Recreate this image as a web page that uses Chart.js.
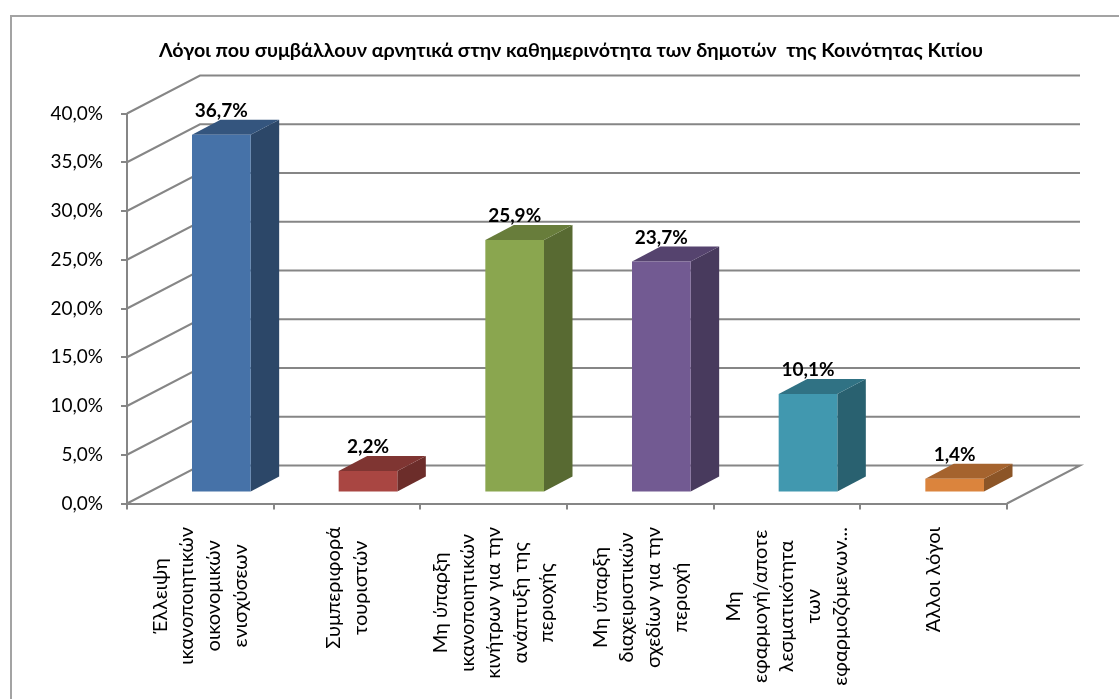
<!DOCTYPE html>
<html lang="el">
<head>
<meta charset="utf-8">
<title>Λόγοι</title>
<script src="https://cdn.jsdelivr.net/npm/chart.js@4"></script>
<style>
html,body{margin:0;padding:0;background:#fff;overflow:hidden}
#wrap{position:relative;width:1119px;height:699px}
#frame{position:absolute;left:10px;top:15px;width:1200px;height:800px;border:2px solid #a3a3a3;box-sizing:border-box}
canvas{position:absolute;left:0;top:0}
</style>
</head>
<body>
<div id="wrap"><div id="frame"></div><canvas id="c" width="1119" height="699"></canvas></div>
<script>
const titleText = 'Λόγοι που συμβάλλουν αρνητικά στην καθημερινότητα των δημοτών  της Κοινότητας Κιτίου';
const categories = [
  ['Έλλειψη','ικανοποιητικών','οικονομικών','ενισχύσεων'],
  ['Συμπεριφορά','τουριστών'],
  ['Μη ύπαρξη','ικανοποιητικών','κινήτρων για την','ανάπτυξη της','περιοχής'],
  ['Μη ύπαρξη','διαχειριστικών','σχεδίων για την','περιοχή'],
  ['Μη','εφαρμογή/αποτε','λεσματικότητα','των','εφαρμοζόμενων...'],
  ['Άλλοι λόγοι']
];
const values = [36.7, 2.2, 25.9, 23.7, 10.1, 1.4];
const frontColors = ['#4672a8','#a94642','#8aa64f','#725a92','#4198af','#db843d'];
const topColors   = ['#34557e','#7f3532','#687d3b','#55436e','#307284','#a5632e'];
const sideColors  = ['#2c4768','#6c2d2a','#586a32','#483a5d','#296170','#8c5527'];

const fontFamily = 'Lato, "Open Sans", sans-serif';
const AXIS = '#868686';
const WALL = {dx: 73, dy: -38};
const BAR_SHIFT = {dx: 21, dy: -11};
const BAR_DEPTH = {dx: 28.5, dy: -15};
const LABEL_TOP = 527;
const fmt = v => v.toFixed(1).replace('.', ',') + '%';

class WrappedCategoryScale extends Chart.CategoryScale {
  _computeLabelItems(area) {
    const items = super._computeLabelItems(area);
    const ctx = this.ctx;
    const ticksFont = Chart.helpers.toFont(this.options.ticks.font);
    ctx.save();
    ctx.font = ticksFont.string;
    items.forEach((item, i) => {
      const lines = [].concat(item.label);
      const w = Math.max(...lines.map(l => ctx.measureText(l).width));
      const px = this.getPixelForTick(i);
      item.options.textAlign = 'center';
      item.options.textBaseline = 'middle';
      item.options.translation = [px, LABEL_TOP + w / 2];
      item.textOffset = -(lines.length - 1) / 2 * ticksFont.lineHeight;
    });
    ctx.restore();
    return items;
  }
}
WrappedCategoryScale.id = 'wrappedCategory';
WrappedCategoryScale.defaults = Chart.CategoryScale.defaults;
Chart.register(WrappedCategoryScale);

function poly(ctx, pts, fill) {
  ctx.beginPath();
  pts.forEach((p, i) => i ? ctx.lineTo(p[0], p[1]) : ctx.moveTo(p[0], p[1]));
  ctx.closePath();
  ctx.fillStyle = fill;
  ctx.fill();
}

const bars3d = {
  id: 'bars3d',
  afterLayout(chart) {
    chart.titleBlock.left = 23;
    chart.titleBlock.right = 1119;
  },
  beforeDatasetsDraw(chart) {
    const {ctx, chartArea: a, scales: {y}} = chart;
    ctx.save();
    ctx.strokeStyle = AXIS;
    ctx.lineWidth = 2;
    y.ticks.forEach(t => {
      const py = y.getPixelForValue(t.value);
      ctx.beginPath();
      ctx.moveTo(a.left, py);
      ctx.lineTo(a.left + WALL.dx, py + WALL.dy);
      ctx.lineTo(a.right + WALL.dx, py + WALL.dy);
      if (t.value === 0) ctx.lineTo(a.right, py);
      ctx.stroke();
    });
    ctx.restore();
  },
  beforeDatasetDraw(chart, args) {
    const {ctx} = chart;
    const meta = args.meta;
    ctx.save();
    ctx.translate(BAR_SHIFT.dx, BAR_SHIFT.dy);
    meta.data.forEach((bar, i) => {
      const {x, y, base, width} = bar.getProps(['x','y','base','width'], true);
      const l = x - width / 2, r = x + width / 2;
      const d = BAR_DEPTH;
      poly(ctx, [[r, y],[r + d.dx, y + d.dy],[r + d.dx, base + d.dy],[r, base]], sideColors[i]);
      poly(ctx, [[l, y],[r, y],[r + d.dx, y + d.dy],[l + d.dx, y + d.dy]], topColors[i]);
    });
  },
  afterDatasetDraw(chart, args) {
    const {ctx} = chart;
    ctx.restore();
    ctx.save();
    ctx.font = 'bold 19px ' + fontFamily;
    ctx.fillStyle = '#000';
    ctx.textAlign = 'center';
    ctx.textBaseline = 'middle';
    args.meta.data.forEach((bar, i) => {
      const {x, y} = bar.getProps(['x','y'], true);
      ctx.fillText(fmt(values[i]), x + BAR_SHIFT.dx, y + BAR_SHIFT.dy - 24);
    });
    ctx.restore();
  }
};

new Chart(document.getElementById('c'), {
  type: 'bar',
  data: {
    labels: categories,
    datasets: [{
      data: values,
      backgroundColor: frontColors,
      barPercentage: 0.4,
      categoryPercentage: 1,
      clip: false
    }]
  },
  plugins: [bars3d],
  options: {
    responsive: false,
    animation: false,
    layout: {padding: {left: 23, right: 112, top: 0, bottom: 0}},
    plugins: {
      legend: {display: false},
      tooltip: {enabled: false},
      title: {
        display: true,
        text: titleText,
        color: '#000',
        font: {family: fontFamily, size: 19.7, weight: 'bold', lineHeight: 1.2},
        padding: {top: 39, bottom: 50.86}
      }
    },
    scales: {
      x: {
        type: 'wrappedCategory',
        offset: true,
        grid: {offset: true, drawOnChartArea: false, color: AXIS, lineWidth: 2, tickLength: 6},
        border: {color: AXIS, width: 2},
        ticks: {
          autoSkip: false, minRotation: 90, maxRotation: 90, color: '#000',
          font: {family: fontFamily, size: 20, lineHeight: 1.33}
        },
        afterFit(s) { s.height = 195.5; }
      },
      y: {
        min: 0, max: 40,
        grid: {drawOnChartArea: false, color: AXIS, lineWidth: 2, tickLength: 6},
        border: {color: AXIS, width: 2},
        ticks: {
          stepSize: 5, color: '#000', padding: 18,
          font: {family: fontFamily, size: 19},
          callback: v => fmt(v)
        },
        afterFit(s) { s.width = 104; }
      }
    }
  }
});
</script>
</body>
</html>
